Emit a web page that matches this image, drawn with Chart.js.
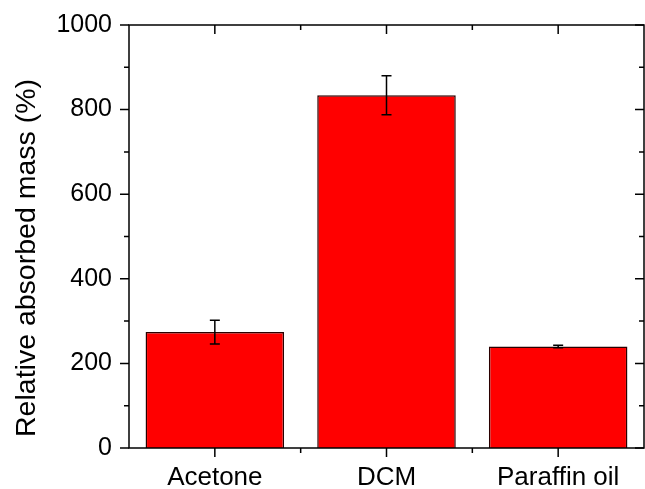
<!DOCTYPE html>
<html>
<head>
<meta charset="utf-8">
<script src="https://cdn.jsdelivr.net/npm/chart.js@4"></script>
<style>
  html, body { margin: 0; padding: 0; background: #fff; }
  #wrap { width: 645px; height: 489px; }
</style>
</head>
<body>
<div id="wrap"><canvas id="myChart" width="645" height="489"></canvas></div>
<script>
// data
const categories = ['Acetone', 'DCM', 'Paraffin oil'];
const absorbedMass = [274, 834, 240];
const absorbedErr = [28, 46, 3];
const yTicks = [0, 200, 400, 600, 800, 1000];

const FONT = '"Liberation Sans", Arial, sans-serif';

// error bars, frame and the Origin-style ticks on all four sides
const framePlugin = {
    id: 'frame',
    afterDatasetsDraw(chart) {
        const ctx = chart.ctx;
        const y = chart.scales.y;
        const meta = chart.getDatasetMeta(0);
        ctx.save();
        ctx.strokeStyle = '#000';
        ctx.lineWidth = 1.5;
        meta.data.forEach((bar, i) => {
            const top = y.getPixelForValue(absorbedMass[i] + absorbedErr[i]);
            const bot = y.getPixelForValue(absorbedMass[i] - absorbedErr[i]);
            ctx.beginPath();
            ctx.moveTo(bar.x, top);
            ctx.lineTo(bar.x, bot);
            ctx.moveTo(bar.x - 5, top);
            ctx.lineTo(bar.x + 5, top);
            ctx.moveTo(bar.x - 5, bot);
            ctx.lineTo(bar.x + 5, bot);
            ctx.stroke();
        });
        ctx.restore();
    },
    afterDraw(chart) {
        const ctx = chart.ctx;
        const a = chart.chartArea;
        const x = chart.scales.x;
        const y = chart.scales.y;
        ctx.save();
        ctx.strokeStyle = '#000';
        ctx.lineWidth = 1.5;
        ctx.strokeRect(a.left, a.top, a.right - a.left, a.bottom - a.top);

        ctx.beginPath();
        // y ticks: major every 200, minor every 100
        for (let v = 0; v <= 1000; v += 100) {
            const py = y.getPixelForValue(v);
            const len = v % 200 === 0 ? 9 : 5;
            ctx.moveTo(a.left - len, py);
            ctx.lineTo(a.left, py);
            ctx.moveTo(a.right, py);
            ctx.lineTo(a.right - len, py);
        }
        // x ticks: major at categories, minor between them
        categories.forEach((c, i) => {
            const px = x.getPixelForValue(i);
            ctx.moveTo(px, a.bottom);
            ctx.lineTo(px, a.bottom + 9);
            ctx.moveTo(px, a.top);
            ctx.lineTo(px, a.top + 9);
            if (i > 0) {
                const mx = (px + x.getPixelForValue(i - 1)) / 2;
                ctx.moveTo(mx, a.bottom);
                ctx.lineTo(mx, a.bottom + 5);
                ctx.moveTo(mx, a.top);
                ctx.lineTo(mx, a.top + 5);
            }
        });
        ctx.stroke();

        // y axis title
        ctx.translate(27, 258);
        ctx.rotate(-Math.PI / 2);
        ctx.fillStyle = '#000';
        ctx.font = '28.5px ' + FONT;
        ctx.textAlign = 'center';
        ctx.textBaseline = 'middle';
        ctx.fillText('Relative absorbed mass (%)', 0, 0);
        ctx.restore();
    }
};

const ctx = document.getElementById('myChart').getContext('2d');

const myChart = new Chart(ctx, {
    type: 'bar',
    data: {
        labels: categories,
        datasets: [{
            data: absorbedMass,
            backgroundColor: '#ff0000',
            borderColor: '#2a0000',
            borderWidth: 1.5,
            categoryPercentage: 1,
            barPercentage: 0.807
        }]
    },
    options: {
        responsive: false,
        animation: false,
        layout: { padding: { top: 25, right: 1, left: 0, bottom: 0 } },
        plugins: {
            legend: { display: false },
            tooltip: { enabled: false }
        },
        scales: {
            x: {
                grid: { display: false, tickLength: 9 },
                border: { display: false },
                ticks: {
                    color: '#000',
                    font: { family: FONT, size: 26 },
                    padding: 5,
                    maxRotation: 0
                },
                afterFit(scale) { scale.height = 41; }
            },
            y: {
                min: 0,
                max: 1000,
                grid: { display: false, tickLength: 9 },
                border: { display: false },
                afterBuildTicks(scale) {
                    scale.ticks = yTicks.map(v => ({ value: v }));
                },
                ticks: {
                    color: '#000',
                    font: { family: FONT, size: 25 },
                    padding: 8,
                    callback: v => String(v)
                },
                afterFit(scale) { scale.width = 129; }
            }
        }
    },
    plugins: [framePlugin]
});
</script>
</body>
</html>
